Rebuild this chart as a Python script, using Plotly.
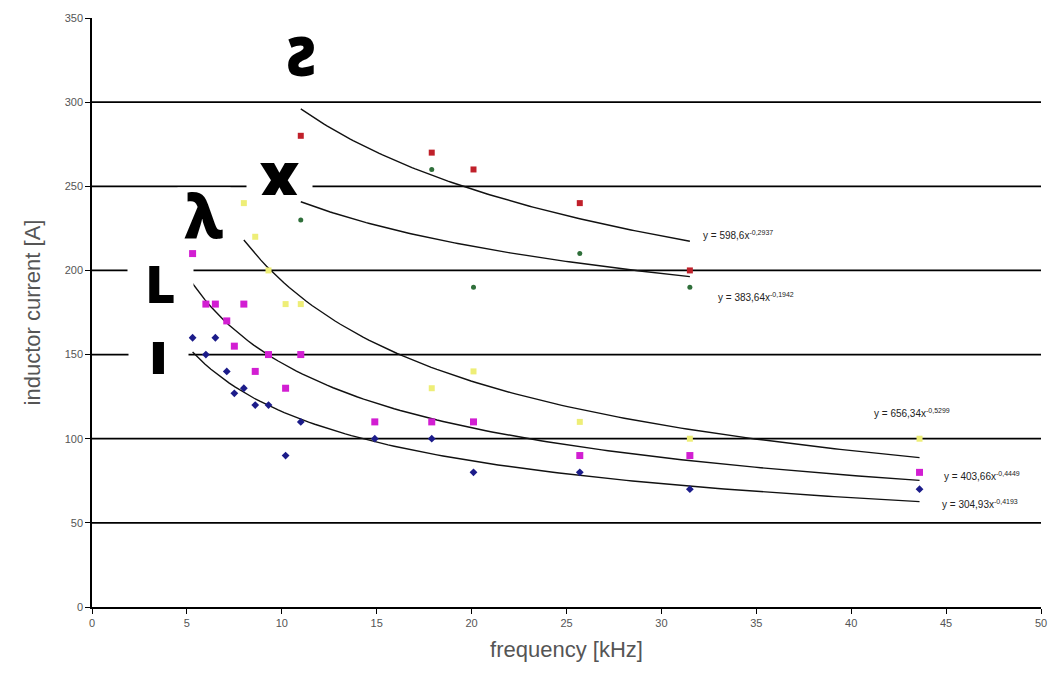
import numpy as np
import plotly.graph_objects as go

# ---------------- data ----------------
blue_x = [5.3, 6.0, 6.5, 7.1, 7.5, 8.0, 8.6, 9.3, 10.2, 11.0, 14.9, 17.9, 20.1, 25.7, 31.5, 43.6]
blue_y = [160, 150, 160, 140, 127, 130, 120, 120, 90, 110, 100, 100, 80, 80, 70, 70]

magenta_x = [5.3, 6.0, 6.5, 7.1, 7.5, 8.0, 8.6, 9.3, 10.2, 11.0, 14.9, 17.9, 20.1, 25.7, 31.5, 43.6]
magenta_y = [210, 180, 180, 170, 155, 180, 140, 150, 130, 150, 110, 110, 110, 90, 90, 80]

yellow_x = [8.0, 8.6, 9.3, 10.2, 11.0, 17.9, 20.1, 25.7, 31.5, 43.6]
yellow_y = [240, 220, 200, 180, 180, 130, 140, 110, 100, 100]

green_x = [11.0, 17.9, 20.1, 25.7, 31.5]
green_y = [230, 260, 190, 210, 190]

red_x = [11.0, 17.9, 20.1, 25.7, 31.5]
red_y = [280, 270, 260, 240, 200]

# power-law trendlines y = a * x^b (coefficients as printed on the chart)
trend_a = [304.93, 403.66, 656.34, 383.64, 598.6]
trend_b = [-0.4193, -0.4449, -0.5299, -0.1942, -0.2937]
trend_labels = ["y = 304,93x<sup>-0,4193</sup>", "y = 403,66x<sup>-0,4449</sup>",
                "y = 656,34x<sup>-0,5299</sup>", "y = 383,64x<sup>-0,1942</sup>",
                "y = 598,6x<sup>-0,2937</sup>"]
label_x = [44.7, 44.8, 41.1, 32.9, 32.1]
label_y = [61, 78, 115, 184, 221]

# hand-drawn curve labels
mark_text = ["ı", "L", "λ", "x", "Ƨ"]
mark_x = [3.5, 3.6, 5.9, 9.9, 11.0]
mark_y = [152, 193, 233, 258, 328]
mark_size = [58, 52, 60, 64, 54]

x_ticks = [0, 5, 10, 15, 20, 25, 30, 35, 40, 45, 50]
y_ticks = [0, 50, 100, 150, 200, 250, 300, 350]

NARROW = "Liberation Sans Narrow, Arial Narrow, Liberation Sans, Arial"

series = [
    (blue_x, blue_y, "#1c1c8a", "diamond", 6),
    (magenta_x, magenta_y, "#d21ed2", "square", 7),
    (yellow_x, yellow_y, "#eeee77", "square", 6),
    (green_x, green_y, "#2f6f3a", "circle", 5),
    (red_x, red_y, "#c0202a", "square", 6),
]

fig = go.Figure()

# trendlines
for (sx, sy, col, sym, sz), a, b in zip(series, trend_a, trend_b):
    xs = np.linspace(min(sx), max(sx), 120)
    fig.add_trace(go.Scatter(x=xs, y=a * xs ** b, mode="lines",
                             line=dict(color="#111111", width=1.4),
                             hoverinfo="skip", showlegend=False))

# markers
for sx, sy, col, sym, sz in series:
    fig.add_trace(go.Scatter(x=sx, y=sy, mode="markers",
                             marker=dict(color=col, symbol=sym, size=sz, line=dict(width=0)),
                             showlegend=False))

# trendline equations
for txt, lx, ly in zip(trend_labels, label_x, label_y):
    fig.add_annotation(x=lx, y=ly, text=txt, showarrow=False, xanchor="left",
                       yanchor="middle", font=dict(family=NARROW, size=10, color="#222222"))

# hand-drawn labels (white boxes interrupt the gridlines as in the original)
mark_box = [(57, 46), (63, 46), (50, 52), (63, 44), (70, 60)]
for t, mx, my, fs, (w, h) in zip(mark_text, mark_x, mark_y, mark_size, mark_box):
    fig.add_annotation(x=mx, y=my, text=t, showarrow=False, width=w, height=h,
                       bgcolor="white",
                       font=dict(family="Noto Sans, DejaVu Sans", size=fs, color="black",
                                 weight=900))

fig.update_layout(
    width=1059, height=682,
    margin=dict(l=92, r=12, t=18, b=75),
    paper_bgcolor="white", plot_bgcolor="white",
    xaxis=dict(range=[0, 50], tickvals=x_ticks, ticks="outside", ticklen=5,
               tickcolor="black", showline=True, linecolor="black", linewidth=1.5,
               showgrid=False, zeroline=False,
               tickfont=dict(family=NARROW, size=11, color="#555555"),
               title=dict(text="frequency [kHz]", standoff=14,
                          font=dict(family=NARROW, size=22, color="#555555"))),
    yaxis=dict(range=[0, 350], tickvals=y_ticks, ticks="outside", ticklen=5,
               tickcolor="black", showline=True, linecolor="black", linewidth=1.5,
               showgrid=False, zeroline=False,
               tickfont=dict(family=NARROW, size=11, color="#555555"),
               title=dict(text="inductor current [A]", standoff=18,
                          font=dict(family=NARROW, size=22, color="#555555"))),
)

# horizontal gridlines at 50..300
for gy in y_ticks[1:-1]:
    fig.add_shape(type="line", xref="x", yref="y", x0=0, x1=50, y0=gy, y1=gy,
                  line=dict(color="black", width=1.8), layer="below")

fig.write_html("out.html")
